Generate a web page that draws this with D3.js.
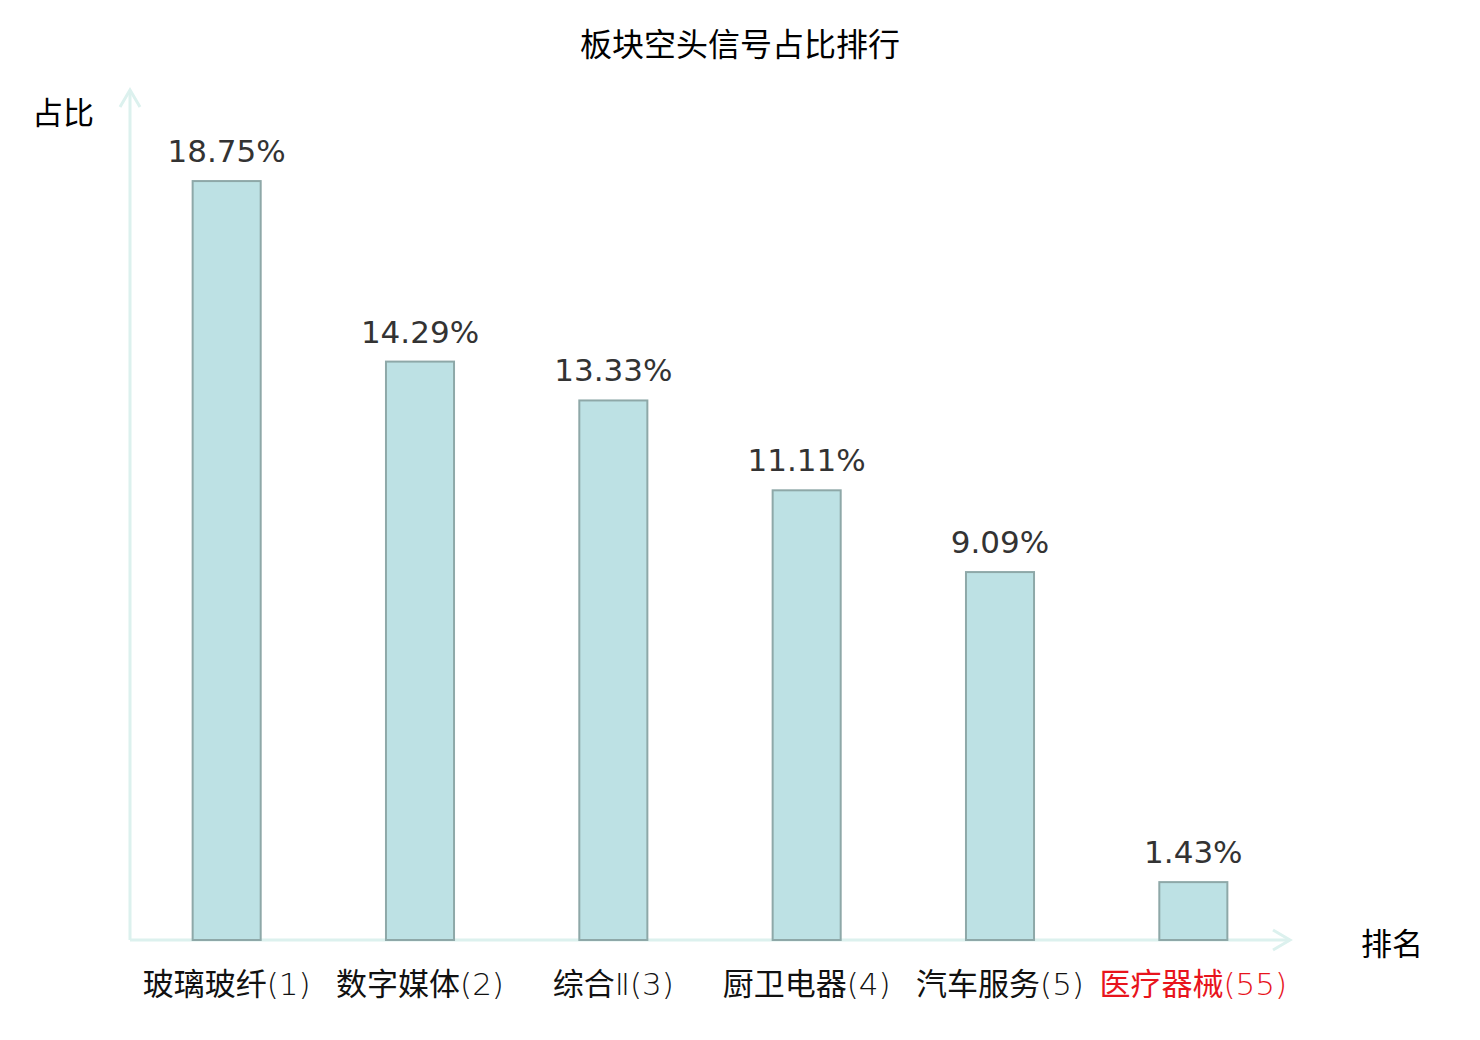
<!DOCTYPE html>
<html>
<head>
<meta charset="utf-8">
<script src="https://cdn.jsdelivr.net/npm/d3@7"></script>
<style>
  body { margin: 0; background: #fff; }
</style>
</head>
<body>
<div id="chart"></div>
<script>
// data
const sectors = ["玻璃玻纤", "数字媒体", "综合Ⅱ", "厨卫电器", "汽车服务", "医疗器械"];
const ranks = [1, 2, 3, 4, 5, 55];
const shares = [18.75, 14.29, 13.33, 11.11, 9.09, 1.43];
const highlight = [false, false, false, false, false, true];

const width = 1480, height = 1040;
const margin = { top: 90, right: 190, bottom: 100, left: 130 };

const cjk = '"Noto Sans CJK SC", sans-serif';

const svg = d3.select("#chart").append("svg")
    .attr("width", width)
    .attr("height", height);

const axisColor = "#dcf1ee";

const x = d3.scaleBand()
    .domain(sectors)
    .range([margin.left, width - margin.right])
    .paddingInner(0.648)
    .paddingOuter(0.324);

const y = d3.scaleLinear()
    .domain([0, 21])
    .range([height - margin.bottom, margin.top]);

// title
svg.append("text")
    .attr("x", 740)
    .attr("y", 42)
    .attr("text-anchor", "middle")
    .attr("dominant-baseline", "central")
    .style("font-family", cjk)
    .style("font-size", "32px")
    .attr("fill", "#000")
    .text("板块空头信号占比排行");

// axes lines with open arrow heads
const base = y(0);
svg.append("line")
    .attr("x1", margin.left).attr("x2", margin.left)
    .attr("y1", base).attr("y2", margin.top)
    .attr("stroke", axisColor).attr("stroke-width", 3);
svg.append("path")
    .attr("d", `M${margin.left - 10},${margin.top + 17}L${margin.left},${margin.top}L${margin.left + 10},${margin.top + 17}`)
    .attr("fill", "none").attr("stroke", axisColor).attr("stroke-width", 3);

const xEnd = width - margin.right;
svg.append("line")
    .attr("x1", margin.left).attr("x2", xEnd)
    .attr("y1", base).attr("y2", base)
    .attr("stroke", axisColor).attr("stroke-width", 3);
svg.append("path")
    .attr("d", `M${xEnd - 17},${base - 10}L${xEnd},${base}L${xEnd - 17},${base + 10}`)
    .attr("fill", "none").attr("stroke", axisColor).attr("stroke-width", 3);

// axis names
svg.append("text")
    .attr("x", 63).attr("y", 110)
    .attr("text-anchor", "middle")
    .attr("dominant-baseline", "central")
    .style("font-family", cjk)
    .style("font-size", "31px")
    .text("占比");

svg.append("text")
    .attr("x", 1392).attr("y", 941)
    .attr("text-anchor", "middle")
    .attr("dominant-baseline", "central")
    .style("font-family", cjk)
    .style("font-size", "31px")
    .text("排名");

// bars
svg.selectAll("rect.bar")
  .data(shares)
  .join("rect")
    .attr("class", "bar")
    .attr("x", (d, i) => x(sectors[i]))
    .attr("y", d => y(d))
    .attr("width", x.bandwidth())
    .attr("height", d => base - y(d))
    .attr("fill", "#bde1e4")
    .attr("stroke", "#8ea8a8")
    .attr("stroke-width", 2);

// value labels
svg.selectAll("text.value")
  .data(shares)
  .join("text")
    .attr("class", "value")
    .attr("x", (d, i) => x(sectors[i]) + x.bandwidth() / 2)
    .attr("y", d => y(d) - 19)
    .attr("text-anchor", "middle")
    .style("font-family", '"DejaVu Sans", sans-serif')
    .style("font-size", "31px")
    .attr("fill", "#333")
    .text(d => d.toFixed(2) + "%");

// category labels: CJK runs in Noto, the rest in thin DejaVu
const runs = s => s.match(/[\u4e00-\u9fff]+|[^\u4e00-\u9fff]+/g);

svg.selectAll("text.cat")
  .data(sectors)
  .join("text")
    .attr("class", "cat")
    .attr("x", d => x(d) + x.bandwidth() / 2)
    .attr("y", 995)
    .attr("text-anchor", "middle")
    .style("font-size", "31px")
    .attr("fill", (d, i) => highlight[i] ? "#e8141c" : "#111")
  .selectAll("tspan")
  .data((d, i) => runs(`${d}(${ranks[i]})`))
  .join("tspan")
    .style("font-family", t => /[\u4e00-\u9fff]/.test(t) ? cjk : '"DejaVu Sans", sans-serif')
    .style("font-weight", t => /[\u4e00-\u9fff]/.test(t) ? 400 : 200)
    .text(t => t);
</script>
</body>
</html>
